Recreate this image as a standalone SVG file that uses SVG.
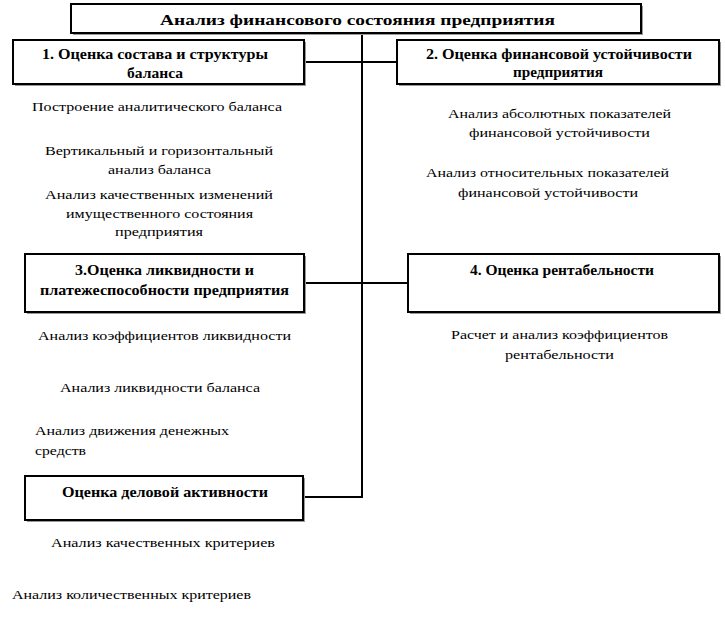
<svg xmlns="http://www.w3.org/2000/svg" width="725" height="618" viewBox="0 0 725 618">
<style>
.box{fill:#fff;stroke:#000;stroke-width:2}
.sh{fill:#999}
.h{font-family:'Liberation Serif','DejaVu Serif',serif;font-weight:bold;font-size:14px;fill:#000}
.t{font-family:'Liberation Serif','DejaVu Serif',serif;font-size:13.5px;fill:#000}
.c{fill:none;stroke:#000;stroke-width:2}
</style>
<rect width="725" height="618" fill="#fff"/>
<g id="connectors">
<path class="c" d="M362,33 V497 H305"/>
<path class="c" d="M304,62 H397"/>
<path class="c" d="M304,283 H408"/>
</g>
<g id="title">
<rect class="sh" x="73" y="6" width="570" height="29"/>
<rect class="box" x="71" y="4" width="570" height="29"/>
<text class="h" x="160" y="25" textLength="395" lengthAdjust="spacingAndGlyphs">Анализ финансового состояния предприятия</text>
</g>
<g id="node1">
<rect class="sh" x="15" y="42" width="291" height="44"/>
<rect class="box" x="13" y="40" width="291" height="44"/>
<text class="h" x="42" y="59" textLength="226" lengthAdjust="spacingAndGlyphs">1. Оценка состава и структуры</text>
<text class="h" x="127" y="78" textLength="56" lengthAdjust="spacingAndGlyphs">баланса</text>
</g>
<g id="node2">
<rect class="sh" x="399" y="42" width="322" height="44"/>
<rect class="box" x="397" y="40" width="322" height="44"/>
<text class="h" x="426" y="59" textLength="266" lengthAdjust="spacingAndGlyphs">2. Оценка финансовой устойчивости</text>
<text class="h" x="513" y="77" textLength="90" lengthAdjust="spacingAndGlyphs">предприятия</text>
</g>
<g id="node1-items">
<text class="t" x="32" y="111" textLength="250" lengthAdjust="spacingAndGlyphs">Построение аналитического баланса</text>
<text class="t" x="45" y="155" textLength="228" lengthAdjust="spacingAndGlyphs">Вертикальный и горизонтальный</text>
<text class="t" x="108" y="174" textLength="103" lengthAdjust="spacingAndGlyphs">анализ баланса</text>
<text class="t" x="45" y="199" textLength="228" lengthAdjust="spacingAndGlyphs">Анализ качественных изменений</text>
<text class="t" x="66" y="218" textLength="187" lengthAdjust="spacingAndGlyphs">имущественного  состояния</text>
<text class="t" x="115" y="236" textLength="88" lengthAdjust="spacingAndGlyphs">предприятия</text>
</g>
<g id="node2-items">
<text class="t" x="448" y="118" textLength="223" lengthAdjust="spacingAndGlyphs">Анализ абсолютных показателей</text>
<text class="t" x="469" y="137" textLength="181" lengthAdjust="spacingAndGlyphs">финансовой устойчивости</text>
<text class="t" x="426" y="177" textLength="243" lengthAdjust="spacingAndGlyphs">Анализ относительных показателей</text>
<text class="t" x="458" y="197" textLength="180" lengthAdjust="spacingAndGlyphs">финансовой устойчивости</text>
</g>
<g id="node3">
<rect class="sh" x="27" y="256" width="279" height="58"/>
<rect class="box" x="25" y="254" width="279" height="58"/>
<text class="h" x="75" y="275" textLength="179" lengthAdjust="spacingAndGlyphs">3.Оценка ликвидности и</text>
<text class="h" x="40" y="295" textLength="249" lengthAdjust="spacingAndGlyphs">платежеспособности предприятия</text>
</g>
<g id="node4">
<rect class="sh" x="410" y="256" width="311" height="58"/>
<rect class="box" x="408" y="254" width="311" height="58"/>
<text class="h" x="470" y="275" textLength="184" lengthAdjust="spacingAndGlyphs">4. Оценка рентабельности</text>
</g>
<g id="node3-items">
<text class="t" x="38" y="340" textLength="253" lengthAdjust="spacingAndGlyphs">Анализ коэффициентов ликвидности</text>
<text class="t" x="60" y="392" textLength="200" lengthAdjust="spacingAndGlyphs">Анализ ликвидности баланса</text>
<text class="t" x="35" y="435" textLength="194" lengthAdjust="spacingAndGlyphs">Анализ движения денежных</text>
<text class="t" x="35" y="455" textLength="51" lengthAdjust="spacingAndGlyphs">средств</text>
</g>
<g id="node4-items">
<text class="t" x="451" y="339" textLength="217" lengthAdjust="spacingAndGlyphs">Расчет и анализ коэффициентов</text>
<text class="t" x="505" y="359" textLength="109" lengthAdjust="spacingAndGlyphs">рентабельности</text>
</g>
<g id="node5">
<rect class="sh" x="27" y="478" width="278" height="44"/>
<rect class="box" x="25" y="476" width="278" height="44"/>
<text class="h" x="62" y="497" textLength="206" lengthAdjust="spacingAndGlyphs">Оценка деловой активности</text>
</g>
<g id="node5-items">
<text class="t" x="51" y="547" textLength="224" lengthAdjust="spacingAndGlyphs">Анализ качественных критериев</text>
<text class="t" x="12" y="599" textLength="239" lengthAdjust="spacingAndGlyphs">Анализ количественных критериев</text>
</g>
</svg>
